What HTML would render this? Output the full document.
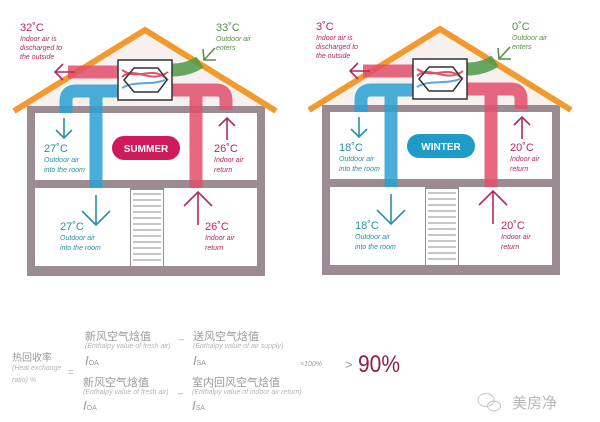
<!DOCTYPE html>
<html><head><meta charset="utf-8"><style>
html,body{margin:0;padding:0;background:#fff;width:600px;height:422px;overflow:hidden}
svg{display:block}
text{font-family:"Liberation Sans","Noto Sans CJK SC",sans-serif}
.it{font-style:italic;font-size:7px}
.t{font-size:11px}
</style></head><body>
<svg width="600" height="422" viewBox="0 0 600 422" xmlns="http://www.w3.org/2000/svg">
<defs>
<g id="house">
  <polygon points="145,32 270,110 20,110" fill="#f6f1ee"/>
  <rect x="27" y="106" width="238" height="170" fill="#9b8c93"/>
  <rect x="35" y="113" width="222" height="67" fill="#fff"/>
  <rect x="35" y="188" width="95" height="78" fill="#fff"/>
  <rect x="164" y="188" width="93" height="78" fill="#fff"/>
  <rect x="131" y="190" width="32" height="76" fill="#fff"/>
  <g stroke="#c9c4c7" stroke-width="2">
    <line x1="133" y1="194" x2="161" y2="194"/><line x1="133" y1="200" x2="161" y2="200"/>
    <line x1="133" y1="206" x2="161" y2="206"/><line x1="133" y1="212" x2="161" y2="212"/>
    <line x1="133" y1="218" x2="161" y2="218"/><line x1="133" y1="224" x2="161" y2="224"/>
    <line x1="133" y1="230" x2="161" y2="230"/><line x1="133" y1="236" x2="161" y2="236"/>
    <line x1="133" y1="242" x2="161" y2="242"/><line x1="133" y1="248" x2="161" y2="248"/>
    <line x1="133" y1="254" x2="161" y2="254"/><line x1="133" y1="260" x2="161" y2="260"/>
  </g>
  <polyline points="14,111 145,30 276,111" fill="none" stroke="#f29a2e" stroke-width="6" stroke-linejoin="miter"/>
  <g fill="none" stroke-width="13" opacity="0.85">
    <path d="M118,72 H68" stroke="#e2506c"/>
    <path d="M118,91 H76 Q66,91 66,101 V113" stroke="#2aa0d4"/>
    <path d="M96,91 V188" stroke="#2aa0d4"/>
    <path d="M172,90 H216 Q226,90 226,100 V110" stroke="#e2506c"/>
    <path d="M196,90 V188" stroke="#e2506c"/>
    <path d="M172,70 Q188,70 200,62" stroke="#4f9a4a"/>
  </g>
  <rect x="118" y="60" width="54" height="40" fill="#fff" stroke="#333" stroke-width="1.5"/>
  <path d="M122,77 C135,65 150,85 168,72" fill="none" stroke="#e2506c" stroke-width="2"/>
  <path d="M122,70 C140,82 152,64 168,80" fill="none" stroke="#e2506c" stroke-width="2"/>
  <path d="M122,88 C135,80 150,86 165,80" fill="none" stroke="#5aa6dc" stroke-width="2"/>
  <polygon points="124,80 134,68 158,68 167,80 158,92 134,92" fill="none" stroke="#333" stroke-width="1.5"/>
  <g fill="none" stroke-width="1.6">
    <path d="M64,118 V138 M56,130 L64,138 L72,130" stroke="#2a8fa8"/>
    <path d="M96,195 V225 M82,211 L96,225 L110,211" stroke="#2a8fa8"/>
    <path d="M227,140 V118 M219,126 L227,118 L235,126" stroke="#b42a58"/>
    <path d="M198,225 V192 M184,206 L198,192 L212,206" stroke="#b42a58"/>
    <path d="M75,72 H55 M63,64 L55,72 L63,80" stroke="#b42a58"/>
    <path d="M204,60 L215,48 M203,49 L204,60 L216,60" stroke="#5a8f4a"/>
  </g>
</g>
</defs>
<use href="#house"/>
<use href="#house" transform="translate(295,-1)"/>
<rect x="112" y="136" width="68" height="24" rx="12" fill="#d0195a"/>
<text x="146" y="152" text-anchor="middle" fill="#fff" font-weight="bold" font-size="10">SUMMER</text>
<text x="20" y="31" class="t" fill="#b42a58">32˚C</text>
<text x="20" y="41" class="it" fill="#b42a58">Indoor air is</text>
<text x="20" y="50" class="it" fill="#b42a58">discharged to</text>
<text x="20" y="59" class="it" fill="#b42a58">the outside</text>
<text x="216" y="31" class="t" fill="#5a8f4a">33˚C</text>
<text x="216" y="41" class="it" fill="#5a8f4a">Outdoor air</text>
<text x="216" y="50" class="it" fill="#5a8f4a">enters</text>
<text x="44" y="152" class="t" fill="#2a8fa8">27˚C</text>
<text x="44" y="162" class="it" fill="#2a8fa8">Outdoor air</text>
<text x="44" y="172" class="it" fill="#2a8fa8">into the room</text>
<text x="60" y="230" class="t" fill="#2a8fa8">27˚C</text>
<text x="60" y="240" class="it" fill="#2a8fa8">Outdoor air</text>
<text x="60" y="250" class="it" fill="#2a8fa8">into the room</text>
<text x="214" y="152" class="t" fill="#b42a58">26˚C</text>
<text x="214" y="162" class="it" fill="#b42a58">Indoor air</text>
<text x="214" y="172" class="it" fill="#b42a58">return</text>
<text x="205" y="230" class="t" fill="#b42a58">26˚C</text>
<text x="205" y="240" class="it" fill="#b42a58">Indoor air</text>
<text x="205" y="250" class="it" fill="#b42a58">return</text>
<rect x="407" y="134" width="68" height="24" rx="12" fill="#1f9bc8"/>
<text x="441" y="150" text-anchor="middle" fill="#fff" font-weight="bold" font-size="10">WINTER</text>
<text x="316" y="30" class="t" fill="#b42a58">3˚C</text>
<text x="316" y="40" class="it" fill="#b42a58">Indoor air is</text>
<text x="316" y="49" class="it" fill="#b42a58">discharged to</text>
<text x="316" y="58" class="it" fill="#b42a58">the outside</text>
<text x="512" y="30" class="t" fill="#5a8f4a">0˚C</text>
<text x="512" y="40" class="it" fill="#5a8f4a">Outdoor air</text>
<text x="512" y="49" class="it" fill="#5a8f4a">enters</text>
<text x="339" y="151" class="t" fill="#2a8fa8">18˚C</text>
<text x="339" y="161" class="it" fill="#2a8fa8">Outdoor air</text>
<text x="339" y="171" class="it" fill="#2a8fa8">into the room</text>
<text x="355" y="229" class="t" fill="#2a8fa8">18˚C</text>
<text x="355" y="239" class="it" fill="#2a8fa8">Outdoor air</text>
<text x="355" y="249" class="it" fill="#2a8fa8">into the room</text>
<text x="510" y="151" class="t" fill="#b42a58">20˚C</text>
<text x="510" y="161" class="it" fill="#b42a58">Indoor air</text>
<text x="510" y="171" class="it" fill="#b42a58">return</text>
<text x="501" y="229" class="t" fill="#b42a58">20˚C</text>
<text x="501" y="239" class="it" fill="#b42a58">Indoor air</text>
<text x="501" y="249" class="it" fill="#b42a58">return</text>
<g fill="#9a9a9a">
<text x="12" y="361" font-size="10">热回收率</text>
<text x="12" y="370" class="it" font-size="5.5" fill="#b5b5b5">(Heat exchange</text>
<text x="12" y="382" class="it" font-size="6" fill="#b5b5b5">ratio) %</text>
<text x="68" y="375" font-size="9">=</text>
<text x="85" y="340" font-size="11">新风空气焓值</text>
<text x="85" y="348" class="it" font-size="5" fill="#b5b5b5">(Enthalpy value of fresh air)</text>
<text x="85" y="365" font-size="13" font-style="italic">I<tspan font-size="7" font-style="normal">OA</tspan></text>
<text x="179" y="342" font-size="9">–</text>
<text x="193" y="340" font-size="11">送风空气焓值</text>
<text x="193" y="348" class="it" font-size="5" fill="#b5b5b5">(Enthalpy value of air supply)</text>
<text x="193" y="365" font-size="13" font-style="italic">I<tspan font-size="7" font-style="normal">SA</tspan></text>
<text x="83" y="386" font-size="11">新风空气焓值</text>
<text x="83" y="394" class="it" font-size="5" fill="#b5b5b5">(Enthalpy value of fresh air)</text>
<text x="83" y="410" font-size="13" font-style="italic">I<tspan font-size="7" font-style="normal">OA</tspan></text>
<text x="178" y="396" font-size="9">–</text>
<text x="192" y="386" font-size="11">室内回风空气焓值</text>
<text x="192" y="394" class="it" font-size="5" fill="#b5b5b5">(Enthalpy value of indoor air return)</text>
<text x="192" y="410" font-size="13" font-style="italic">I<tspan font-size="7" font-style="normal">SA</tspan></text>
<text x="300" y="366" class="it" font-size="7">×100%</text>
<text x="345" y="369" font-size="13">&gt;</text>
</g>
<text x="358" y="372" font-size="24" fill="#8e1f40" textLength="42" lengthAdjust="spacingAndGlyphs">90%</text>
<text x="512" y="408" font-size="15" fill="#b8b8b8">美房净</text>
<g fill="none" stroke="#c5c5c5" stroke-width="1"><ellipse cx="486" cy="400" rx="8" ry="6.5"/><ellipse cx="494" cy="406" rx="6.5" ry="5"/></g>
</svg>
</body></html>
